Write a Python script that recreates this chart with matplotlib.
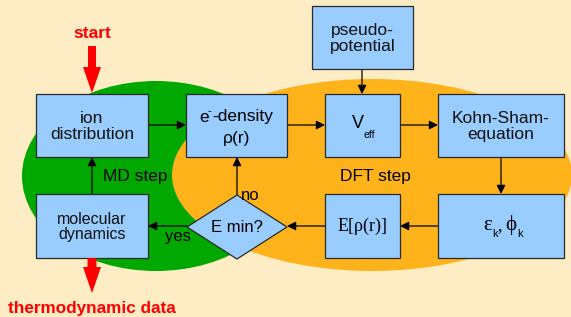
"""Flow diagram of the MD/DFT loop, drawn in pixel coordinates."""

import matplotlib

matplotlib.use("Agg")
import matplotlib.pyplot as plt  # noqa: E402
from matplotlib.patches import Ellipse, Rectangle, Polygon, FancyArrow  # noqa: E402

plt.rcParams["font.family"] = ["Liberation Sans", "DejaVu Sans"]

# node labels
box_names = ["ion", "edens", "pseudo", "veff", "ks", "md", "efunc", "eps"]
box_labels = ["ion\ndistribution", None, "pseudo-\npotential", None,
              "Kohn-Sham-\nequation", "molecular\ndynamics", None, None]
region_labels = ["MD step", "DFT step"]
decision_label = "E min?"
branch_labels = ["yes", "no"]
start_label = "start"
end_label = "thermodynamic data"

# layout (pixels, y downwards): x0, y0, x1, y1
box_xy = {
    "ion": (36, 94, 148, 157),
    "edens": (186, 94, 287, 157),
    "pseudo": (312, 6, 413, 69),
    "veff": (325, 94, 400, 157),
    "ks": (438, 94, 564, 157),
    "md": (36, 194, 148, 258),
    "efunc": (325, 194, 400, 258),
    "eps": (438, 194, 564, 258),
}
diamond = (237, 227, 50, 32)  # cx, cy, half-w, half-h

BG = "#FDECC4"
GREEN = "#00A800"
ORANGE = "#FFB31A"
BLUE = "#99CCFF"
EDGE = "#2a2a2a"
RED = "#FF0000"

fig = plt.figure(figsize=(5.71, 3.17), dpi=100, facecolor=BG)
ax = fig.add_axes([0, 0, 1, 1])
ax.set_xlim(0, 571)
ax.set_ylim(317, 0)
ax.axis("off")
ax.set_facecolor(BG)

ax.add_patch(Ellipse((156, 176), 268, 190, color=GREEN, lw=0, zorder=1))
ax.add_patch(Ellipse((372, 175), 400, 192, color=ORANGE, lw=0, zorder=2))


def center(name):
    x0, y0, x1, y1 = box_xy[name]
    return (x0 + x1) / 2, (y0 + y1) / 2


for name in box_names:
    x0, y0, x1, y1 = box_xy[name]
    ax.add_patch(Rectangle((x0, y0), x1 - x0, y1 - y0, facecolor=BLUE,
                           edgecolor=EDGE, lw=0.9, zorder=5))

for name, lab in zip(box_names, box_labels):
    if lab is None:
        continue
    cx, cy = center(name)
    fs = 11.5 if name == "md" else 12.5
    ax.text(cx, cy + 1, lab, ha="center", va="center", fontsize=fs,
            linespacing=1.05, color="#111111", zorder=6)

# special labels
ax.text(199, 117, "e", ha="left", va="center", fontsize=12.5, zorder=6)
ax.text(208, 111, "-", ha="left", va="center", fontsize=8, zorder=6)
ax.text(212, 117, "-density", ha="left", va="center", fontsize=12.5, zorder=6)
ax.text(237, 139, "ρ(r)", ha="center", va="center", fontsize=12.5, zorder=6)

cx, cy = center("veff")
ax.text(cx + 1, cy - 2, "V", ha="right", va="center", fontsize=13, zorder=6)
ax.text(cx + 1, cy + 9, "eff", ha="left", va="center", fontsize=7.5, zorder=6)

cx, cy = center("efunc")
ax.text(cx, cy, "E[ρ(r)]", ha="center", va="center", fontsize=13,
        family="Liberation Serif", zorder=6)

ax.text(488, 225, "ε", ha="center", va="center", fontsize=15,
        family="Liberation Serif", zorder=6)
ax.text(492, 234, "k", ha="left", va="center", fontsize=8, zorder=6)
ax.text(497, 226, ",", ha="left", va="center", fontsize=13,
        family="Liberation Serif", zorder=6)
ax.text(511, 225, "ϕ", ha="center", va="center", fontsize=15,
        family="Liberation Serif", zorder=6)
ax.text(517, 234, "k", ha="left", va="center", fontsize=8, zorder=6)

dx, dy, hw, hh = diamond
ax.add_patch(Polygon([(dx - hw, dy), (dx, dy - hh), (dx + hw, dy), (dx, dy + hh)],
                     closed=True, facecolor=BLUE, edgecolor=EDGE, lw=0.9, zorder=5))
ax.text(dx, dy, decision_label, ha="center", va="center", fontsize=12, zorder=6)


def link(p0, p1):
    ax.annotate("", xy=p1, xytext=p0, zorder=4,
                arrowprops=dict(arrowstyle="-|>", color="black", lw=0.9,
                                mutation_scale=13, shrinkA=0, shrinkB=0))


link((148, 125), (186, 125))
link((287, 125), (325, 125))
link((400, 125), (438, 125))
link((362, 69), (362, 94))
link((501, 157), (501, 194))
link((438, 226), (400, 226))
link((325, 226), (287, 226))
link((187, 226), (148, 226))
link((237, 195), (237, 157))
link((92, 194), (92, 157))

ax.text(178, 237, branch_labels[0], ha="center", va="center", fontsize=12, zorder=6)
ax.text(250, 195, branch_labels[1], ha="center", va="center", fontsize=12, zorder=6)
ax.text(135, 177, region_labels[0], ha="center", va="center", fontsize=12.5, zorder=6)
ax.text(375, 176, region_labels[1], ha="center", va="center", fontsize=12.5, zorder=6)

# red in/out arrows
ax.add_patch(FancyArrow(92, 46, 0, 47, width=8, head_width=18, head_length=26,
                        length_includes_head=True, color=RED, lw=0, zorder=7))
ax.add_patch(FancyArrow(92, 258, 0, 35, width=9, head_width=18, head_length=26,
                        length_includes_head=True, color=RED, lw=0, zorder=7))
ax.text(92, 33, start_label, ha="center", va="center", fontsize=12.5,
        fontweight="bold", color=RED, zorder=7)
ax.text(92, 308, end_label, ha="center", va="center", fontsize=12.3,
        fontweight="bold", color=RED, zorder=7)

fig.savefig("out.png", dpi=100, facecolor=BG)
